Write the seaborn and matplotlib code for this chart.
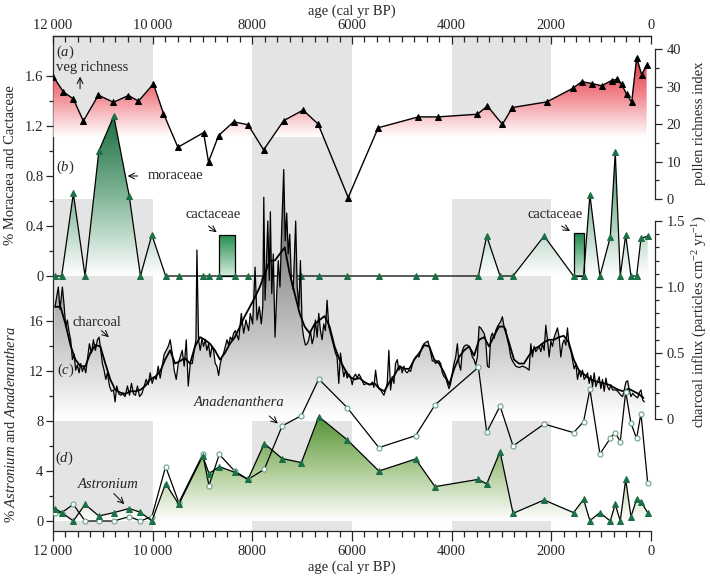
import numpy as np
import seaborn as sns
import matplotlib
matplotlib.use('Agg')
import matplotlib.pyplot as plt
from matplotlib.colors import LinearSegmentedColormap
from matplotlib.patches import PathPatch
from matplotlib.path import Path
from matplotlib.ticker import MultipleLocator, FixedLocator

# ---- data ----
# (a) pollen richness index
rich_age = [11993, 11793, 11592, 11391, 11089, 10788, 10486, 10285, 9984, 9783, 9494,
            8979, 8879, 8678, 8376, 8087, 7773, 7371, 6982, 6680, 6077, 5474, 4670,
            4276, 3484, 3283, 2982, 2781, 2090, 1574, 1387, 1186, 991, 790, 690, 589,
            489, 388, 288, 188, 87]
rich_val = [32.6, 28.6, 26.7, 20.8, 27.7, 25.8, 27.6, 26.1, 30.7, 22.8, 13.8,
            17.7, 9.9, 16.9, 20.6, 19.8, 13.1, 20.9, 23.7, 20.0, 0.4, 19.0, 21.9,
            21.9, 22.6, 24.8, 19.9, 24.4, 25.9, 29.5, 31.3, 30.8, 30.2, 31.6, 31.9, 30.6,
            27.9, 25.8, 37.7, 33.2, 35.7]

# pollen sample ages for (b) and (d)
pollen_age = [11960, 11826, 11592, 11357, 11080, 10780, 10470, 10245, 10016, 9740, 9475,
              8995, 8870, 8663, 8356, 8087, 7760, 7403, 7015, 6667, 6097, 5461, 4724,
              4335, 3464, 3297, 3029, 2768, 2145, 1554, 1353, 1226, 1025, 818, 717, 617,
              508, 402, 289, 201, 67]
moraceae = [0, 0, 0.66, 0, 1.0, 1.28, 0.64, 0, 0.33, 0, 0,
            0, 0, 0, 0, 0, 0, 0, 0, 0, 0, 0, 0,
            0, 0, 0.32, 0, 0, 0.32, 0, 0, 0.65, 0, 0.31, 0.99, 0,
            0.33, 0, 0, 0.30, 0.32]
astronium = [1.0, 0.67, 0, 1.33, 0.4, 0.67, 1.0, 0.7, 0, 3.0, 1.33,
             5.2, 3.8, 4.35, 3.9, 3.33, 6.2, 5.0, 4.67, 8.35, 6.5, 4.0, 4.96,
             2.75, 3.33, 2.96, 5.55, 0.61, 1.68, 0.67, 1.73, 0.03, 0.67, 0, 1.33, 0,
             3.33, 0.35, 1.73, 1.55, 0.67]
anadenanthera = [0.67, 0.67, 1.33, 0, 0, 0, 0.35, 0, 0.35, 4.35, 1.47,
                 5.33, 2.83, 5.33, 4.0, 3.33, 4.13, 7.6, 8.43, 11.36, 9.07, 5.87, 6.83,
                 9.28, 12.3, 7.1, 9.2, 6.0, 7.76, 7.07, 7.95, 10.53, 5.36, 6.61, 7.07, 6.35,
                 10.35, 7.81, 6.61, 8.6, 3.07]

# cactaceae bars (age span, %)
cact_old = [8663, 1554]
cact_young = [8356, 1353]
cact_val = [0.33, 0.34]

# (c) charcoal influx, raw
char_age = [11960, 11893, 11859, 11812, 11779, 11745, 11712, 11678, 11645, 11611, 11578,
            11544, 11511, 11477, 11444, 11410, 11377, 11343, 11310, 11270, 11229, 11189,
            11149, 11109, 11075, 11042, 11008, 10975, 10941, 10908, 10867, 10827, 10787,
            10754, 10720, 10680, 10640, 10600, 10553, 10506, 10465, 10425, 10385, 10345,
            10305, 10264, 10218, 10171, 10130, 10090, 10050, 10010, 9970, 9929, 9889,
            9849, 9809, 9769, 9728, 9688, 9648, 9608, 9568, 9527, 9487, 9447, 9407,
            9367, 9326, 9286, 9246, 9206, 9166, 9132, 9112, 9079, 9046, 9012, 8979,
            8945, 8912, 8878, 8845, 8811, 8778, 8744, 8710, 8677, 8643, 8610, 8576,
            8543, 8509, 8476, 8442, 8409, 8375, 8342, 8275, 8221, 8174, 8128, 8074,
            8041, 7994, 7945, 7906, 7860, 7820, 7790, 7770, 7745, 7715, 7690, 7660,
            7638, 7610, 7580, 7545, 7510, 7480, 7445, 7410, 7370, 7340, 7310, 7280,
            7250, 7215, 7180, 7150, 7130, 7100, 7065, 7035, 7000, 6970, 6935, 6900,
            6868, 6834, 6800, 6767, 6734, 6700, 6667, 6634, 6600, 6567, 6534, 6500,
            6466, 6433, 6400, 6366, 6333, 6300, 6265, 6231, 6197, 6164, 6131, 6097,
            6064, 6030, 5996, 5963, 5929, 5896, 5862, 5829, 5795, 5762, 5695, 5628,
            5594, 5561, 5527, 5494, 5460, 5427, 5393, 5360, 5327, 5293, 5260, 5226,
            5193, 5159, 5126, 5092, 5059, 5025, 4992, 4958, 4924, 4891, 4857, 4824,
            4790, 4757, 4723, 4690, 4656, 4623, 4589, 4556, 4522, 4476, 4435, 4388,
            4355, 4321, 4288, 4254, 4221, 4187, 4154, 4120, 4087, 4053, 4020, 3986,
            3953, 3919, 3886, 3853, 3819, 3786, 3752, 3719, 3685, 3652, 3618, 3585,
            3551, 3518, 3484, 3450, 3417, 3384, 3350, 3317, 3283, 3250, 3216, 3182,
            3149, 3115, 3082, 3049, 3015, 2982, 2950, 2914, 2881, 2848, 2815, 2781,
            2714, 2647, 2580, 2513, 2446, 2412, 2379, 2345, 2312, 2245, 2211, 2178,
            2144, 2111, 2077, 2044, 2010, 1977, 1943, 1877, 1843, 1810, 1776, 1743,
            1709, 1676, 1642, 1609, 1575, 1542, 1508, 1475, 1441, 1408, 1374, 1341,
            1307, 1274, 1240, 1207, 1173, 1140, 1106, 1040, 1006, 973, 939, 905,
            872, 838, 805, 771, 704, 670, 637, 604, 570, 537, 503, 469,
            436, 402, 369, 335, 302, 268, 235, 201, 168, 134]
char_val = [0.85, 1.00, 0.83, 1.00, 0.87, 0.70, 0.75, 0.66, 0.60, 0.45, 0.49,
            0.37, 0.41, 0.35, 0.42, 0.36, 0.40, 0.35, 0.45, 0.57, 0.50, 0.60,
            0.52, 0.60, 0.62, 0.52, 0.42, 0.37, 0.30, 0.35, 0.25, 0.21, 0.22,
            0.13, 0.25, 0.19, 0.18, 0.19, 0.17, 0.25, 0.18, 0.27, 0.19, 0.18,
            0.25, 0.17, 0.19, 0.25, 0.30, 0.26, 0.35, 0.27, 0.32, 0.30, 0.40,
            0.31, 0.40, 0.49, 0.52, 0.55, 0.60, 0.50, 0.37, 0.30, 0.42, 0.47, 0.52,
            0.40, 0.60, 0.25, 0.42, 0.42, 0.52, 0.60, 1.28, 0.60, 0.52, 0.61, 0.55,
            0.60, 0.52, 0.57, 0.47, 0.55, 0.52, 0.42, 0.40, 0.33, 0.42, 0.47, 0.50,
            0.55, 0.60, 0.56, 0.62, 0.60, 0.65, 0.67, 0.60, 0.80, 0.65, 0.75, 0.67,
            0.80, 0.72, 1.15, 0.75, 0.85, 0.72, 0.85, 1.68, 0.90, 1.20, 1.50, 1.05,
            1.57, 0.95, 1.25, 0.62, 0.95, 1.20, 1.00, 1.45, 1.89, 1.35, 1.56, 1.25,
            1.40, 1.05, 0.98, 1.30, 1.50, 1.00, 0.85, 1.20, 0.70, 0.62, 0.56, 0.57,
            0.60, 0.67, 0.57, 0.62, 0.75, 0.62, 0.80, 0.67, 0.60, 0.72, 0.67, 0.90,
            0.70, 0.65, 0.60, 0.55, 0.50, 0.47, 0.27, 0.50, 0.40, 0.32, 0.37, 0.31,
            0.34, 0.32, 0.26, 0.32, 0.34, 0.31, 0.34, 0.32, 0.29, 0.26, 0.27, 0.26,
            0.28, 0.24, 0.37, 0.27, 0.23, 0.22, 0.20, 0.18, 0.22, 0.27, 0.52, 0.22,
            0.32, 0.27, 0.42, 0.45, 0.37, 0.40, 0.35, 0.40, 0.36, 0.35, 0.37, 0.36,
            0.41, 0.45, 0.47, 0.48, 0.47, 0.51, 0.55, 0.57, 0.58, 0.59, 0.53, 0.44,
            0.44, 0.42, 0.44, 0.44, 0.42, 0.35, 0.32, 0.31, 0.27, 0.23, 0.27, 0.35,
            0.42, 0.47, 0.57, 0.42, 0.37, 0.52, 0.55, 0.56, 0.56, 0.55, 0.52, 0.47,
            0.45, 0.41, 0.47, 0.70, 0.69, 0.67, 0.65, 0.60, 0.40, 0.39, 0.62, 0.65,
            0.61, 0.67, 0.70, 0.72, 0.74, 0.775, 0.70, 0.68, 0.60, 0.55, 0.47, 0.44,
            0.40, 0.39, 0.40, 0.39, 0.37, 0.57, 0.47, 0.55, 0.51, 0.55, 0.51, 0.57,
            0.52, 0.71, 0.60, 0.47, 0.59, 0.55, 0.62, 0.69, 0.62, 0.47, 0.57, 0.60,
            0.56, 0.69, 0.55, 0.52, 0.45, 0.38, 0.42, 0.30, 0.37, 0.32, 0.37, 0.30,
            0.32, 0.35, 0.27, 0.33, 0.245, 0.35, 0.245, 0.32, 0.23, 0.30, 0.21, 0.31,
            0.245, 0.22, 0.26, 0.22, 0.22, 0.21, 0.195, 0.18, 0.17, 0.22, 0.28, 0.29,
            0.22, 0.17, 0.195, 0.18, 0.17, 0.16, 0.20, 0.22, 0.145, 0.13]

# (c) charcoal, smoothed
smooth_age = [11960, 11850, 11750, 11650, 11550, 11450, 11350, 11250, 11150, 11050, 10950,
              10850, 10750, 10650, 10550, 10450, 10350, 10250, 10150, 10050, 9950, 9850,
              9750, 9650, 9550, 9450, 9350, 9250, 9150, 9050, 8950, 8850, 8750, 8650,
              8550, 8450, 8350, 8250, 8150, 8050, 7950, 7850, 7750, 7650, 7550, 7450,
              7350, 7250, 7150, 7050, 6950, 6850, 6750, 6650, 6550, 6450, 6350, 6250,
              6150, 6050, 5950, 5850, 5750, 5650, 5550, 5450, 5350, 5250, 5150, 5050,
              4950, 4850, 4750, 4650, 4550, 4450, 4350, 4250, 4150, 4050, 3950, 3850,
              3750, 3650, 3550, 3450, 3350, 3250, 3150, 3050, 2950, 2850, 2750, 2650,
              2550, 2450, 2350, 2250, 2150, 2050, 1950, 1850, 1750, 1650, 1550, 1450,
              1350, 1250, 1150, 1050, 950, 850, 750, 650, 550, 450, 350, 250, 150]
smooth_val = [0.85, 0.85, 0.72, 0.56, 0.45, 0.40, 0.40, 0.50, 0.56, 0.55, 0.42,
              0.30, 0.22, 0.20, 0.19, 0.21, 0.21, 0.22, 0.25, 0.30, 0.32, 0.36,
              0.45, 0.52, 0.42, 0.44, 0.46, 0.42, 0.55, 0.62, 0.60, 0.57, 0.52, 0.45,
              0.50, 0.57, 0.62, 0.70, 0.78, 0.85, 0.92, 1.00, 1.10, 1.20, 1.20, 1.25,
              1.30, 1.10, 0.95, 0.80, 0.70, 0.65, 0.72, 0.75, 0.78, 0.70, 0.55, 0.45,
              0.38, 0.32, 0.30, 0.31, 0.28, 0.26, 0.27, 0.23, 0.21, 0.28, 0.33, 0.40,
              0.38, 0.38, 0.45, 0.50, 0.56, 0.55, 0.45, 0.42, 0.35, 0.26, 0.38, 0.47,
              0.52, 0.55, 0.48, 0.60, 0.62, 0.55, 0.63, 0.70, 0.70, 0.58, 0.45, 0.42,
              0.42, 0.48, 0.53, 0.55, 0.58, 0.60, 0.60, 0.62, 0.63, 0.58, 0.45, 0.37,
              0.34, 0.31, 0.29, 0.28, 0.27, 0.26, 0.24, 0.22, 0.21, 0.23, 0.21, 0.19, 0.16]

x_ticks = [12000, 10000, 8000, 6000, 4000, 2000, 0]
x_labels = ['12\u2009000', '10\u2009000', '8000', '6000', '4000', '2000', '0']
bands = [(12000, 10000), (8000, 6000), (4000, 2000)]

# ---- style ----
sns.set_style('ticks')
plt.rcParams['font.family'] = ['Liberation Serif', 'DejaVu Serif']
plt.rcParams['mathtext.fontset'] = 'custom'
plt.rcParams['mathtext.rm'] = 'Liberation Serif'
plt.rcParams['mathtext.it'] = 'Liberation Serif:italic'
plt.rcParams['font.size'] = 10.5
plt.rcParams['axes.linewidth'] = 0.9

FS = 10.5
band_col = '#e4e4e4'


def gradient_fill(axx, x, y, base, top, colors, where=None, z=1):
    coll = axx.fill_between(x, y, base, where=where, interpolate=True,
                            facecolor='none', edgecolor='none', linewidth=0)
    path = Path.make_compound_path(*coll.get_paths())
    clip = PathPatch(path, transform=axx.transData, facecolor='none', edgecolor='none')
    axx.add_patch(clip)
    cmap = LinearSegmentedColormap.from_list('g', colors)
    img = axx.imshow(np.linspace(0, 1, 256).reshape(-1, 1), cmap=cmap, aspect='auto',
                     origin='lower', extent=[0, 12000, base, top], zorder=z,
                     interpolation='bilinear')
    img.set_clip_path(clip)


fig = plt.figure(figsize=(7.1, 5.76), dpi=100)
ax = fig.add_axes([53 / 710, 45 / 576, 598 / 710, 495 / 576])
ax.set_xlim(12000, 0)
ax.set_ylim(0, 1)
ax.set_yticks([])
ax.spines['right'].set_visible(False)

# grey bands (panel a, panels b/c, panel d)
for old, young in bands:
    ax.axvspan(old, young, ymin=0.796, ymax=1.0, color=band_col, lw=0, zorder=0)
    ax.axvspan(old, young, ymin=0.238, ymax=0.671, color=band_col, lw=0, zorder=0)
    ax.axvspan(old, young, ymin=0.0, ymax=0.222, color=band_col, lw=0, zorder=0)
ax.axvspan(8000, 6000, ymin=0.671, ymax=0.796, color=band_col, lw=0, zorder=0)

# bottom / top age axes
ax.xaxis.set_major_locator(FixedLocator(x_ticks))
ax.set_xticklabels(x_labels)
ax.xaxis.set_minor_locator(MultipleLocator(250))
ax.tick_params(axis='x', which='major', direction='out', length=7, width=0.9, labelsize=FS, pad=3)
ax.tick_params(axis='x', which='minor', direction='out', length=4, width=0.9)
ax.set_xlabel('age (cal yr BP)', fontsize=FS, labelpad=2)

top = ax.secondary_xaxis('top')
top.xaxis.set_major_locator(FixedLocator(x_ticks))
top.set_xticklabels(x_labels)
top.xaxis.set_minor_locator(MultipleLocator(250))
top.tick_params(axis='x', which='major', direction='in', length=6, width=0.9, labelsize=FS, pad=3)
top.tick_params(axis='x', which='minor', direction='in', length=4, width=0.9)
top.set_xlabel('age (cal yr BP)', fontsize=FS, labelpad=3)


def overlay(ylim, side):
    a = ax.twinx()
    a.set_xlim(12000, 0)
    for s in a.spines.values():
        s.set_visible(False)
    a.yaxis.set_ticks_position(side)
    a.yaxis.set_label_position(side)
    return a, ylim


arrow = dict(arrowstyle='->', lw=0.7, color='black', shrinkA=0, shrinkB=0)

# (a) pollen richness
ax_rich, lim_rich = overlay((-88.53, 43.47), 'right')
gradient_fill(ax_rich, rich_age, rich_val, 16.5, 40, ['#ffffff', '#f08088', '#dc2430'],
              where=[v > 16.5 for v in rich_val])
sns.lineplot(x=rich_age, y=rich_val, ax=ax_rich, color='black', lw=1, sort=False,
             estimator=None, marker='^', markersize=4.2, markerfacecolor='black',
             markeredgecolor='black', zorder=3)
ax_rich.spines['right'].set_visible(True)
ax_rich.spines['right'].set_bounds(0, 40)
ax_rich.spines['right'].set_position(('outward', 3))
ax_rich.set_yticks([0, 10, 20, 30, 40])
ax_rich.yaxis.set_minor_locator(FixedLocator([5, 15, 25, 35]))
ax_rich.tick_params(axis='y', which='major', length=5, width=0.9, labelsize=FS, pad=3)
ax_rich.tick_params(axis='y', which='minor', length=3, width=0.9)
ax_rich.text(11940, 39.2, '($\\it{a}$)', fontsize=FS, va='center', ha='left')
ax_rich.text(11940, 35.2, 'veg richness', fontsize=FS, va='center', ha='left')
ax_rich.annotate('', xy=(11457, 32.6), xytext=(11457, 29.4), arrowprops=arrow)

# (b) moraceae and cactaceae
ax_mor, lim_mor = overlay((-2.04, 1.92), 'left')
gradient_fill(ax_mor, pollen_age, moraceae, 0, 1.3, ['#ffffff', '#7fb596', '#186a3e'], z=1)
bars = ax_mor.bar(cact_old, cact_val, width=np.subtract(cact_young, cact_old), bottom=0,
                  align='edge', facecolor='none', edgecolor='black', lw=0.9, zorder=3)
bar_cmap = LinearSegmentedColormap.from_list('b', ['#d4ebdb', '#1d8a4b'])
for rect in bars:
    img = ax_mor.imshow(np.linspace(0, 1, 64).reshape(-1, 1), cmap=bar_cmap, aspect='auto',
                        origin='lower', extent=[0, 12000, 0, max(cact_val)], zorder=2)
    img.set_clip_path(rect)
sns.lineplot(x=pollen_age, y=moraceae, ax=ax_mor, color='black', lw=0.9, sort=False,
             estimator=None, marker='^', markersize=4.2, markerfacecolor='#1b7047',
             markeredgecolor='#1b7047', zorder=4)
ax_mor.set_yticks([0, 0.4, 0.8, 1.2, 1.6])
ax_mor.set_yticklabels(['0', '0.4', '0.8', '1.2', '1.6'])
ax_mor.yaxis.set_minor_locator(FixedLocator([0.2, 0.6, 1.0, 1.4]))
ax_mor.tick_params(axis='y', which='major', length=5, width=0.9, labelsize=FS, pad=2)
ax_mor.tick_params(axis='y', which='minor', length=3, width=0.9)
ax_mor.text(11940, 0.87, '($\\it{b}$)', fontsize=FS, va='center', ha='left')
ax_mor.annotate('', xy=(10500, 0.80), xytext=(10300, 0.80), arrowprops=arrow)
ax_mor.text(10090, 0.80, 'moraceae', fontsize=FS, va='center', ha='left')
ax_mor.text(8784, 0.49, 'cactaceae', fontsize=FS, va='center', ha='center')
ax_mor.annotate('', xy=(8715, 0.35), xytext=(8880, 0.40), arrowprops=arrow)
ax_mor.text(1930, 0.49, 'cactaceae', fontsize=FS, va='center', ha='center')
ax_mor.annotate('', xy=(1625, 0.36), xytext=(1795, 0.40), arrowprops=arrow)

# (c) charcoal
ax_char, lim_char = overlay((-0.8485, 2.9015), 'right')
gradient_fill(ax_char, char_age, char_val, 0, 1.9,
              ['#ffffff', '#d2d2d2', '#a8a8a8', '#7c7c7c', '#555555'], z=1)
sns.lineplot(x=char_age, y=char_val, ax=ax_char, color='black', lw=0.9, sort=False,
             estimator=None, zorder=3)
sns.lineplot(x=smooth_age, y=smooth_val, ax=ax_char, color='black', lw=1.3, sort=False,
             estimator=None, zorder=3)
ax_char.spines['right'].set_visible(True)
ax_char.spines['right'].set_bounds(0, 1.5)
ax_char.spines['right'].set_position(('outward', 3))
ax_char.set_yticks([0, 0.5, 1.0, 1.5])
ax_char.set_yticklabels(['0', '0.5', '1.0', '1.5'])
ax_char.yaxis.set_minor_locator(FixedLocator([0.1, 0.2, 0.3, 0.4, 0.6, 0.7, 0.8, 0.9,
                                              1.1, 1.2, 1.3, 1.4]))
ax_char.tick_params(axis='y', which='major', length=5, width=0.9, labelsize=FS, pad=3)
ax_char.tick_params(axis='y', which='minor', length=3, width=0.9)
ax_char.text(11920, 0.37, '($\\it{c}$)', fontsize=FS, va='center', ha='left')
ax_char.text(11122, 0.73, 'charcoal', fontsize=FS, va='center', ha='center')
ax_char.annotate('', xy=(10880, 0.62), xytext=(11030, 0.67), arrowprops=arrow)

# (d) astronium and anadenanthera
ax_ast, lim_ast = overlay((-0.8, 38.8), 'left')
gradient_fill(ax_ast, pollen_age, astronium, 0, 8.5, ['#ffffff', '#a9c98f', '#4f9032'], z=1)
sns.lineplot(x=pollen_age, y=anadenanthera, ax=ax_ast, color='black', lw=0.9, sort=False,
             estimator=None, marker='o', markersize=3.6, markerfacecolor='white',
             markeredgecolor='#6aa283', markeredgewidth=0.8, zorder=3)
sns.lineplot(x=pollen_age, y=astronium, ax=ax_ast, color='black', lw=0.9, sort=False,
             estimator=None, marker='^', markersize=4.2, markerfacecolor='#1b7047',
             markeredgecolor='#1b7047', zorder=4)
ax_ast.set_yticks([0, 4, 8, 12, 16])
ax_ast.yaxis.set_minor_locator(FixedLocator([2, 6, 10, 14]))
ax_ast.tick_params(axis='y', which='major', length=5, width=0.9, labelsize=FS, pad=2)
ax_ast.tick_params(axis='y', which='minor', length=3, width=0.9)
ax_ast.text(11960, 5.04, '($\\it{d}$)', fontsize=FS, va='center', ha='left')
ax_ast.text(8261, 9.44, 'Anadenanthera', fontsize=FS, style='italic', va='center', ha='center')
ax_ast.annotate('', xy=(7490, 7.8), xytext=(7660, 8.4), arrowprops=arrow)
ax_ast.text(10900, 2.88, 'Astronium', fontsize=FS, style='italic', va='center', ha='center')
ax_ast.annotate('', xy=(10570, 1.35), xytext=(10780, 2.2), arrowprops=arrow)

for a, lim in [(ax_rich, lim_rich), (ax_mor, lim_mor), (ax_char, lim_char), (ax_ast, lim_ast)]:
    a.set_ylim(*lim)
    a.set_xlim(12000, 0)
    a.set_ylabel('')
    a.set_xlabel('')
ax.set_xlim(12000, 0)

# axis titles
fig.text(11 / 710, 1 - 165 / 576, '% Moracaea and Cactaceae', rotation=90,
         fontsize=FS, ha='center', va='center')
fig.text(11 / 710, 1 - 425 / 576, '% $\\it{Astronium}$ and $\\it{Anadenanthera}$',
         rotation=90, fontsize=FS, ha='center', va='center')
fig.text(700 / 710, 1 - 123 / 576, 'pollen richness index', rotation=90,
         fontsize=FS, ha='center', va='center')
fig.text(700 / 710, 1 - 322 / 576, 'charcoal influx (particles cm$^{-2}$ yr$^{-1}$)',
         rotation=90, fontsize=FS, ha='center', va='center')

fig.savefig('out.png', dpi=100)
